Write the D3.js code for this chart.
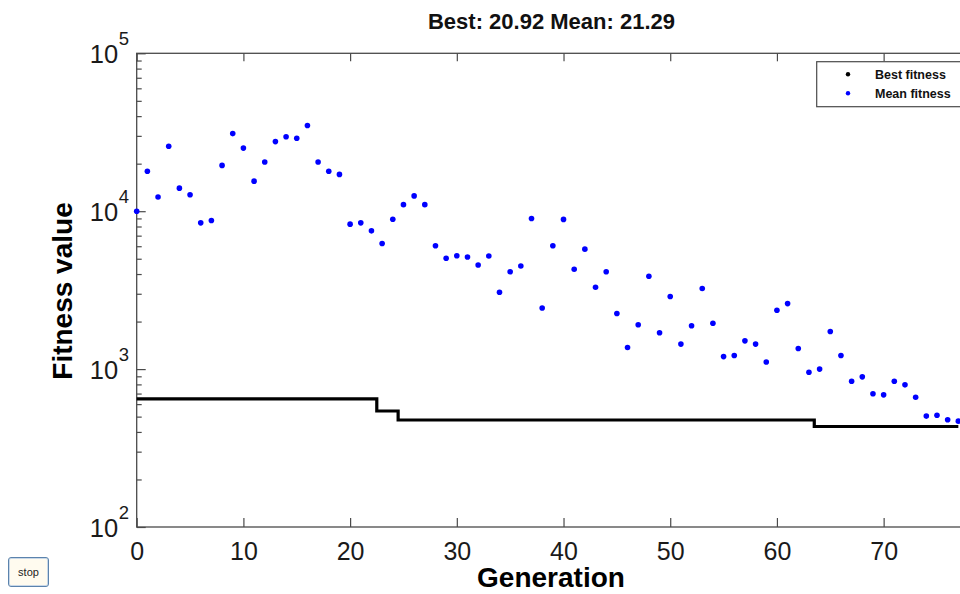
<!DOCTYPE html>
<html>
<head>
<meta charset="utf-8">
<script src="https://cdn.jsdelivr.net/npm/d3@7"></script>
<style>
	html, body { margin: 0; background: #fff; overflow: hidden; }
	#chart { position: absolute; left: 0; top: 0; }
	svg text { font-family: "Liberation Sans", Arial, sans-serif; }
	#stop {
		position: absolute; left: 8px; top: 557px; width: 41px; height: 30px;
		background: #fffbef; border: 1px solid #5b83ad; border-radius: 3px;
		font: 11px "Liberation Sans", Arial, sans-serif; color: #222; padding: 0;
		box-shadow: inset 0 0 0 1px #c9d8e8;
	}
</style>
</head>
<body>
<div id="chart"></div>
<button id="stop">stop</button>
<script>

// mean fitness per generation (0..77)
var meanFitness = [
	10000, 17900, 12300, 25800, 14000, 12700, 8440, 8730, 19500, 31000,
	25100, 15500, 20500, 27600, 29600, 29000, 34900, 20500, 17900, 17100,
	8280, 8440, 7510, 6250, 8900, 11000, 12500, 11000, 6040, 5040,
	5220, 5130, 4560, 5200, 3070, 4140, 4500, 9000, 2440, 6040,
	8870, 4290, 5750, 3300, 4140, 2250, 1370, 1910, 3870, 1700,
	2880, 1440, 1880, 3240, 1950, 1200, 1220, 1510, 1440, 1110,
	2360, 2600, 1350, 955, 1000, 1730, 1220, 838, 893, 698,
	687, 838, 795, 664, 504, 510, 478, 468
]

// best fitness per generation (0..77)
var bestFitness = [
	648, 648, 648, 648, 648, 648, 648, 648, 648, 648,
	648, 648, 648, 648, 648, 648, 648, 648, 648, 648,
	648, 648, 648, 543, 543, 476, 476, 476, 476, 476,
	476, 476, 476, 476, 476, 476, 476, 476, 476, 476,
	476, 476, 476, 476, 476, 476, 476, 476, 476, 476,
	476, 476, 476, 476, 476, 476, 476, 476, 476, 476,
	476, 476, 476, 476, 433, 433, 433, 433, 433, 433,
	433, 433, 433, 433, 433, 433, 433, 433
]

var xTicks = [0, 10, 20, 30, 40, 50, 60, 70]
var yTickExps = [2, 3, 4, 5]
var xDomain = [0, 78]
var yDomain = [100, 100000]
var titleText = 'Best: 20.92 Mean: 21.29'
var legendLabels = ['Best fitness', 'Mean fitness']

// svg is wider than the window; the right part of the figure is cut off
var width = 1040, height = 594
var margin = { left: 136.7, right: 71, top: 53.3, bottom: 67 }
var axisColor = '#4a4a4a'

var svg = d3.select('#chart').append('svg')
	.attr('width', width)
	.attr('height', height)

var x = d3.scaleLinear()
	.domain(xDomain)
	.range([margin.left, width - margin.right])

var y = d3.scaleLog()
	.domain(yDomain)
	.range([height - margin.bottom, margin.top])

var x0 = x.range()[0], x1 = x.range()[1]
var y0 = y.range()[0], y1 = y.range()[1]

// minor log ticks
var minorTicks = []
yTickExps.slice(0, -1).forEach(function (e) {
	for (var m = 2; m < 10; m++) minorTicks.push(m * Math.pow(10, e))
})
var majorTicks = yTickExps.map(function (e) { return Math.pow(10, e) })

function styleAxis(g) {
	g.select('.domain').remove()
	g.selectAll('line').attr('stroke', axisColor).attr('stroke-width', 1.2)
}

// plot frame
svg.append('rect')
	.attr('x', x0).attr('y', y1)
	.attr('width', x1 - x0).attr('height', y0 - y1)
	.attr('fill', 'none')
	.attr('stroke', axisColor)
	.attr('stroke-width', 1.3)

// bottom axis
svg.append('g')
	.attr('transform', 'translate(0,' + y0 + ')')
	.call(d3.axisBottom(x).tickValues(xTicks).tickSize(-9).tickPadding(15))
	.call(styleAxis)
	.selectAll('text')
	.attr('fill', '#1a1a1a')
	.style('font-size', '25px')

// top axis
svg.append('g')
	.attr('transform', 'translate(0,' + y1 + ')')
	.call(d3.axisTop(x).tickValues(xTicks).tickSize(-8).tickFormat(''))
	.call(styleAxis)

// left axis, majors + minors
svg.append('g')
	.attr('transform', 'translate(' + x0 + ',0)')
	.call(d3.axisLeft(y).tickValues(majorTicks).tickSize(-9).tickFormat(''))
	.call(styleAxis)

svg.append('g')
	.attr('transform', 'translate(' + x0 + ',0)')
	.call(d3.axisLeft(y).tickValues(minorTicks).tickSize(-5).tickFormat(''))
	.call(styleAxis)

// y tick labels 10^n
var yLab = svg.append('g').selectAll('g')
	.data(yTickExps)
	.enter().append('g')

yLab.append('text')
	.attr('x', x0 - 18.5)
	.attr('y', function (e) { return y(Math.pow(10, e)) + 10 })
	.attr('text-anchor', 'end')
	.attr('fill', '#1a1a1a')
	.style('font-size', '25.5px')
	.text('10')

yLab.append('text')
	.attr('x', x0 - 18)
	.attr('y', function (e) { return y(Math.pow(10, e)) - 8.5 })
	.attr('fill', '#1a1a1a')
	.style('font-size', '18.5px')
	.text(function (e) { return e })

// best fitness stairs
var bestLine = d3.line()
	.curve(d3.curveStep)
	.x(function (d, i) { return x(i) })
	.y(function (d) { return y(d) })

svg.append('path')
	.datum(bestFitness)
	.attr('d', bestLine)
	.attr('fill', 'none')
	.attr('stroke', '#000')
	.attr('stroke-width', 3.2)

// mean fitness dots
svg.append('g').selectAll('circle')
	.data(meanFitness)
	.enter().append('circle')
	.attr('cx', function (d, i) { return x(i) })
	.attr('cy', function (d) { return y(d) })
	.attr('r', 2.8)
	.attr('fill', '#0000ff')

// title
svg.append('text')
	.attr('x', 551.5)
	.attr('y', 29)
	.attr('text-anchor', 'middle')
	.attr('font-weight', 'bold')
	.attr('fill', '#111')
	.style('font-size', '22px')
	.text(titleText)

// axis labels
svg.append('text')
	.attr('x', 551)
	.attr('y', 587)
	.attr('text-anchor', 'middle')
	.attr('font-weight', 'bold')
	.attr('fill', '#000')
	.style('font-size', '28px')
	.text('Generation')

svg.append('text')
	.attr('transform', 'translate(72,291) rotate(-90)')
	.attr('text-anchor', 'middle')
	.attr('font-weight', 'bold')
	.attr('fill', '#000')
	.style('font-size', '28px')
	.text('Fitness value')

// legend
var legend = svg.append('g').attr('transform', 'translate(816.7,61.7)')

legend.append('rect')
	.attr('width', 150)
	.attr('height', 45)
	.attr('fill', '#fff')
	.attr('stroke', axisColor)
	.attr('stroke-width', 1.2)

var legendColors = ['#000', '#0000ff']
legendLabels.forEach(function (lab, i) {
	legend.append('circle')
		.attr('cx', 31.3)
		.attr('cy', 12.6 + i * 19)
		.attr('r', 2.2)
		.attr('fill', legendColors[i])
	legend.append('text')
		.attr('x', 58.3)
		.attr('y', 17.3 + i * 19)
		.attr('font-weight', 'bold')
		.attr('fill', '#111')
		.style('font-size', '12.5px')
		.text(lab)
})

</script>
</body>
</html>
